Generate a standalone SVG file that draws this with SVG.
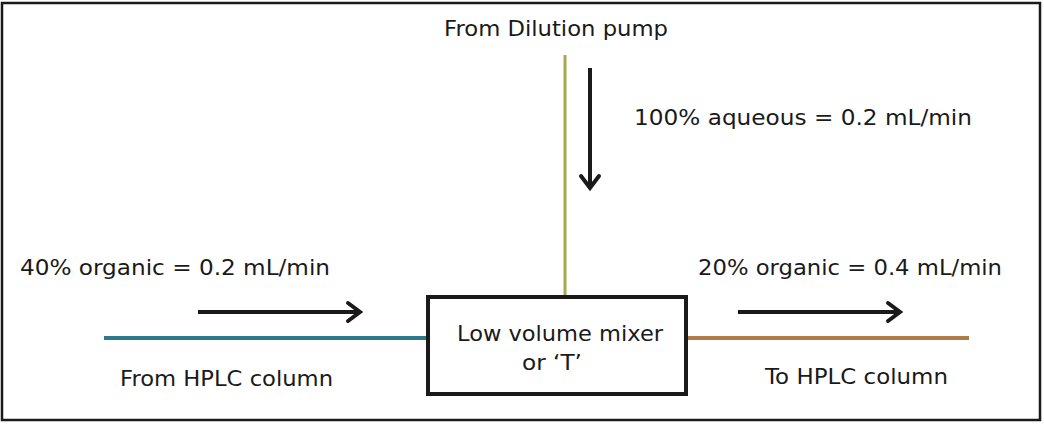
<svg xmlns="http://www.w3.org/2000/svg" width="1044" height="425" viewBox="0 0 1044 425">
<defs>
<style>
text{font-family:"DejaVu Sans","Verdana",sans-serif;font-size:22px;fill:#1a1a1a}
.arr{stroke:#1a1a1a;stroke-width:4;fill:none}
.head{stroke:#1a1a1a;stroke-width:4;fill:none;stroke-linecap:round;stroke-linejoin:miter}
</style>
</defs>
<rect x="2" y="3" width="1038" height="417" fill="#fff" stroke="#1a1a1a" stroke-width="2.5"/>
<g id="connectors">
<line x1="104" y1="338" x2="430" y2="338" stroke="#2b7a8c" stroke-width="4"/>
<line x1="686" y1="338" x2="969" y2="338" stroke="#b07d4a" stroke-width="4"/>
<line x1="565" y1="55" x2="565" y2="297" stroke="#a8a84a" stroke-width="3"/>
<line class="arr" x1="590" y1="68" x2="590" y2="186"/>
<polyline class="head" points="581,176 590,188 599,176"/>
<line class="arr" x1="198" y1="312" x2="358" y2="312"/>
<polyline class="head" points="348,303 360,312 348,321"/>
<line class="arr" x1="738" y1="312" x2="898" y2="312"/>
<polyline class="head" points="888,303 900,312 888,321"/>
</g>
<g id="mixer">
<rect x="428" y="297" width="258" height="97" fill="#fff" stroke="#1a1a1a" stroke-width="4"/>
<text x="457" y="341" textLength="206" lengthAdjust="spacingAndGlyphs">Low volume mixer</text>
<text x="522" y="370" textLength="60" lengthAdjust="spacingAndGlyphs">or ‘T’</text>
</g>
<g id="labels">
<text x="444" y="36" textLength="224" lengthAdjust="spacingAndGlyphs">From Dilution pump</text>
<text x="634" y="125" textLength="338" lengthAdjust="spacingAndGlyphs">100% aqueous  = 0.2 mL/min</text>
<text x="20" y="275" textLength="310" lengthAdjust="spacingAndGlyphs">40% organic = 0.2 mL/min</text>
<text x="698" y="275" textLength="304" lengthAdjust="spacingAndGlyphs">20% organic = 0.4 mL/min</text>
<text x="120" y="386" textLength="213" lengthAdjust="spacingAndGlyphs">From HPLC column</text>
<text x="765" y="384" textLength="183" lengthAdjust="spacingAndGlyphs">To HPLC column</text>
</g>
</svg>
